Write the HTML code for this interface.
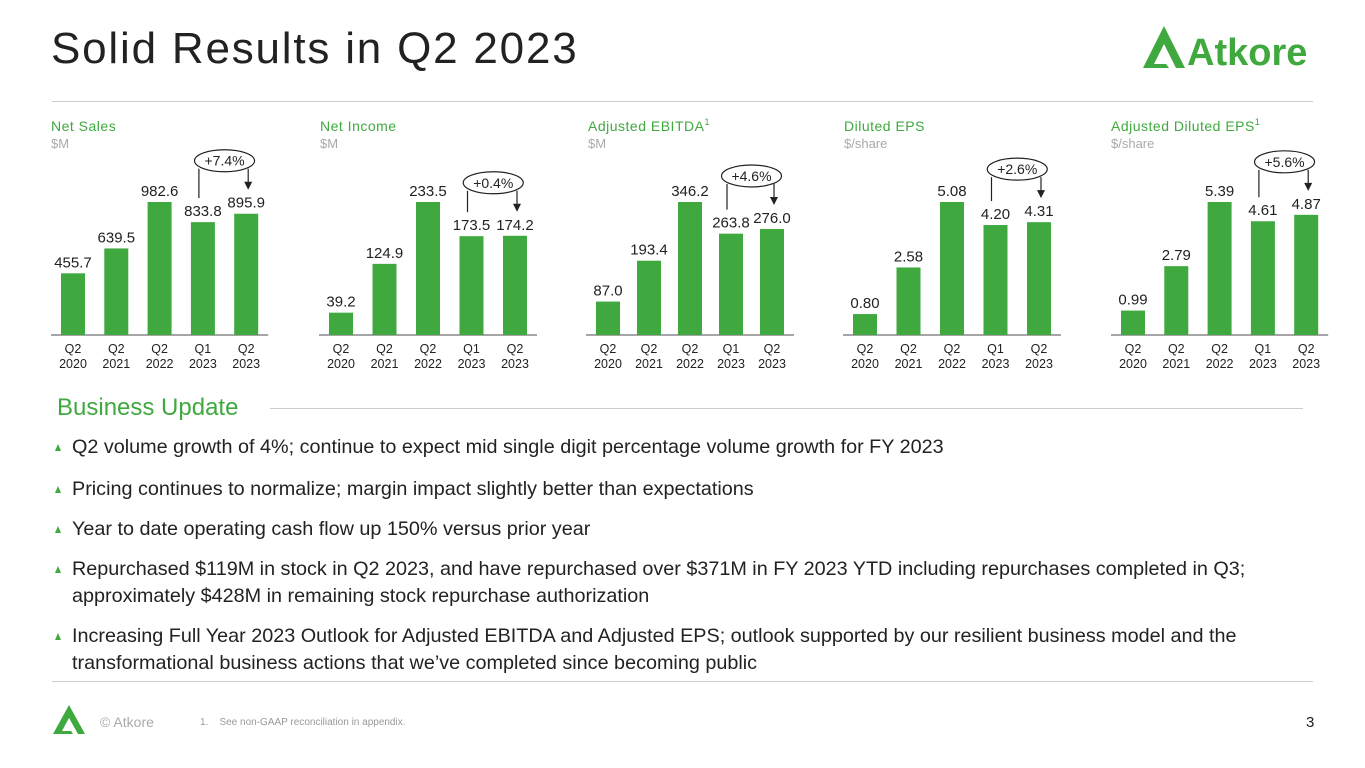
<!DOCTYPE html>
<html><head><meta charset="utf-8"><style>
body{margin:0;width:1365px;height:768px;background:#fff;font-family:"Liberation Sans",sans-serif;position:relative;overflow:hidden}
.a{position:absolute;white-space:nowrap}
.bul{position:absolute;left:72px;font-size:19.8px;color:#222;line-height:27px}
.tri{position:absolute;left:55px;width:0;height:0;border-left:3.5px solid transparent;border-right:3.5px solid transparent;border-bottom:7px solid #3fa93f}
</style></head><body>
<div class="a" style="left:51px;top:24px;font-size:44px;color:#222;letter-spacing:1.8px">Solid Results in Q2 2023</div>
<svg class="a" style="left:1140px;top:22px" width="180" height="50">
<polygon points="3,46 24,4 45,46 36,46 24,22 14,42 26,42 29,46" fill="#3fa93f"/>
<text x="47" y="43" font-size="38" font-weight="bold" fill="#3fa93f" font-family="Liberation Sans">Atkore</text></svg>
<div class="a" style="left:52px;top:101px;width:1261px;height:1px;background:#ccc"></div>
<svg id="charts" class="a" style="left:0;top:110px" width="1365" height="270"></svg>
<div class="a" style="left:57px;top:394px;font-size:24px;color:#3fa93f">Business Update</div>
<div class="a" style="left:270px;top:408px;width:1033px;height:1px;background:#ccc"></div>
<div class="tri" style="top:444px"></div><div class="bul" style="top:434px">Q2 volume growth of 4%; continue to expect mid single digit percentage volume growth for FY 2023</div>
<div class="tri" style="top:486px"></div><div class="bul" style="top:476px">Pricing continues to normalize; margin impact slightly better than expectations</div>
<div class="tri" style="top:526px"></div><div class="bul" style="top:516px">Year to date operating cash flow up 150% versus prior year</div>
<div class="tri" style="top:566px"></div><div class="bul" style="top:556px">Repurchased $119M in stock in Q2 2023, and have repurchased over $371M in FY 2023 YTD including repurchases completed in Q3;<br>approximately $428M in remaining stock repurchase authorization</div>
<div class="tri" style="top:633px"></div><div class="bul" style="top:623px">Increasing Full Year 2023 Outlook for Adjusted EBITDA and Adjusted EPS; outlook supported by our resilient business model and the<br>transformational business actions that we’ve completed since becoming public</div>
<div class="a" style="left:52px;top:681px;width:1261px;height:1px;background:#ccc"></div>
<svg class="a" style="left:52px;top:704px" width="38" height="32"><polygon points="1,30 17,1 33,30 26,30 17,14 10,27 19,27 21,30" fill="#3fa93f"/></svg>
<div class="a" style="left:100px;top:714px;font-size:14px;color:#aaa">© Atkore</div>
<div class="a" style="left:200px;top:717px;font-size:10px;color:#999">1.&nbsp;&nbsp;&nbsp; See non-GAAP reconciliation in appendix.</div>
<div class="a" style="left:1306px;top:714px;font-size:15px;color:#222">3</div>
<script>
const titles=["Net Sales","Net Income","Adjusted EBITDA","Diluted EPS","Adjusted Diluted EPS"];
const units=["$M","$M","$M","$/share","$/share"];
const sup=["","","1","","1"];
const cats=[["Q2","2020"],["Q2","2021"],["Q2","2022"],["Q1","2023"],["Q2","2023"]];
const netSales=[455.7,639.5,982.6,833.8,895.9];
const netIncome=[39.2,124.9,233.5,173.5,174.2];
const ebitda=[87.0,193.4,346.2,263.8,276.0];
const eps=[0.80,2.58,5.08,4.20,4.31];
const adjEps=[0.99,2.79,5.39,4.61,4.87];
const changes=["+7.4%","+0.4%","+4.6%","+2.6%","+5.6%"];
const series=[netSales,netIncome,ebitda,eps,adjEps];
const decs=[1,1,1,2,2];
const chartLeft=[51,320,588,844,1111];
const firstCenter=[73,341,608,865,1133];
const spacing=[43.3,43.5,41,43.5,43.3];
const svg=document.getElementById('charts');
const NS="http://www.w3.org/2000/svg";
const base=225, maxH=133;
function mk(t,a,txt){const e=document.createElementNS(NS,t);for(const k in a)e.setAttribute(k,a[k]);if(txt!==undefined)e.textContent=txt;svg.appendChild(e);return e;}
series.forEach((vals,c)=>{
  const mx=Math.max(...vals);
  const y=v=>base-v/mx*maxH;
  const x=i=>firstCenter[c]+i*spacing[c];
  let t=mk('text',{x:chartLeft[c],y:21,'font-size':14,fill:'#3fa93f','letter-spacing':'0.5'},titles[c]);
  
  if(sup[c]){mk('tspan',{dy:-6,'font-size':9},sup[c]);t.appendChild(svg.lastChild);}
  t=mk('text',{x:chartLeft[c],y:38,'font-size':13,fill:'#aaa'},units[c]);
  
  const l=mk('line',{x1:x(0)-22,x2:x(4)+22,y1:base,y2:base,stroke:'#888','stroke-width':1.5});
  
  vals.forEach((v,i)=>{
    const r=mk('rect',{x:x(i)-12,y:y(v),width:24,height:base-y(v),fill:'#3fa93f'});
    
    const lb=mk('text',{x:x(i),y:y(v)-6,'font-size':15,fill:'#222','text-anchor':'middle'},v.toFixed(decs[c]));
    
    cats[i].forEach((s,j)=>{const tk=mk('text',{x:x(i),y:243+j*15,'font-size':12.5,fill:'#222','text-anchor':'middle'},s);
    });
  });
  const top=Math.min(y(vals[3]),y(vals[4]));
  const ey=top-53, ex=(x(3)+x(4))/2;
  let e=mk('line',{x1:x(3)-4,x2:x(3)-4,y1:ey+8,y2:y(vals[3])-24,stroke:'#222','stroke-width':1.2});
  
  e=mk('line',{x1:x(4)+2,x2:x(4)+2,y1:ey+8,y2:y(vals[4])-30,stroke:'#222','stroke-width':1.2});
  
  e=mk('polygon',{points:`${x(4)-2},${y(vals[4])-32} ${x(4)+6},${y(vals[4])-32} ${x(4)+2},${y(vals[4])-24}`,fill:'#222'});
  
  e=mk('ellipse',{cx:ex,cy:ey,rx:30,ry:11,fill:'#fff',stroke:'#222','stroke-width':1.2});
  
  e=mk('text',{x:ex,y:ey+5,'font-size':14,fill:'#222','text-anchor':'middle'},changes[c]);
  
});
</script>
</body></html>
